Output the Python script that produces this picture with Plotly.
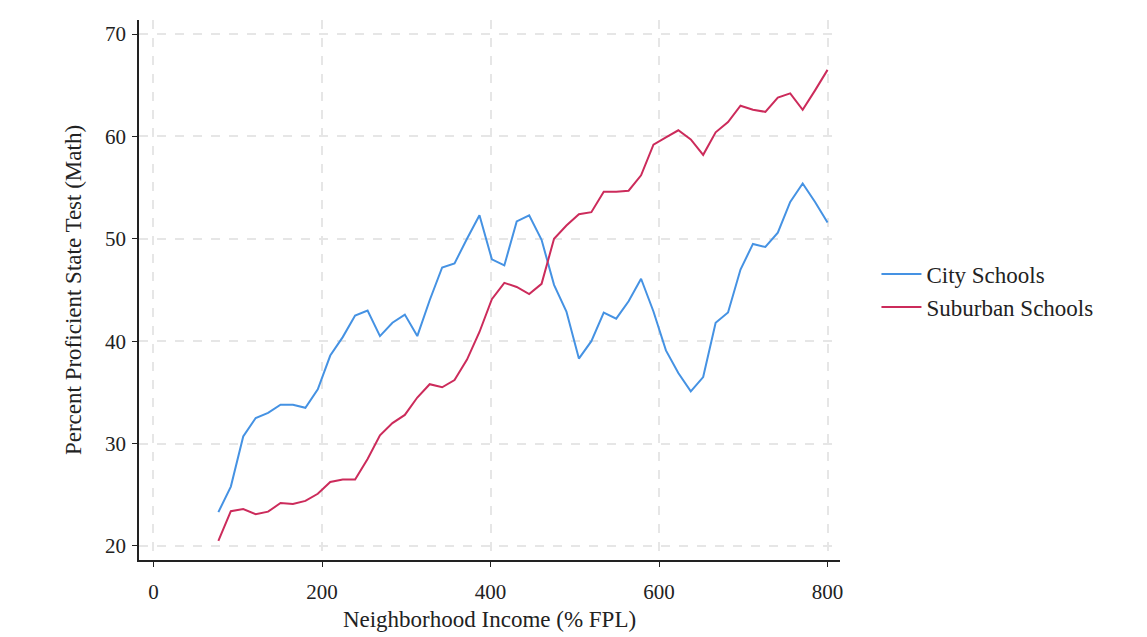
import plotly.graph_objects as go

income = [77.0, 91.8, 106.5, 121.3, 136.0, 150.8, 165.5, 180.3, 195.0, 209.8,
          224.6, 239.3, 254.1, 268.8, 283.6, 298.3, 313.1, 327.8, 342.6, 357.3,
          372.1, 386.9, 401.6, 416.4, 431.1, 445.9, 460.6, 475.4, 490.1, 504.9,
          519.7, 534.4, 549.2, 563.9, 578.7, 593.4, 608.2, 622.9, 637.7, 652.4,
          667.2, 681.9, 696.7, 711.5, 726.2, 741.0, 755.7, 770.5, 785.2, 800.0]

city = [23.3, 25.8, 30.7, 32.5, 33.0, 33.8, 33.8, 33.5, 35.3, 38.6,
        40.4, 42.5, 43.0, 40.5, 41.8, 42.6, 40.5, 44.0, 47.2, 47.6,
        50.0, 52.3, 48.0, 47.4, 51.7, 52.3, 49.9, 45.5, 42.9, 38.3,
        40.0, 42.8, 42.2, 43.9, 46.1, 42.9, 39.1, 36.9, 35.1, 36.5,
        41.8, 42.8, 47.0, 49.5, 49.2, 50.6, 53.6, 55.4, 53.6, 51.6]

suburban = [20.5, 23.4, 23.6, 23.1, 23.35, 24.2, 24.1, 24.4, 25.1, 26.25,
            26.5, 26.5, 28.5, 30.8, 32.0, 32.8, 34.5, 35.8, 35.5, 36.2,
            38.2, 40.9, 44.1, 45.7, 45.3, 44.6, 45.6, 50.0, 51.3, 52.4,
            52.6, 54.6, 54.6, 54.7, 56.2, 59.2, 59.9, 60.6, 59.7, 58.2,
            60.4, 61.4, 63.0, 62.6, 62.4, 63.8, 64.2, 62.6, 64.5, 66.5]

x_ticks = [0, 200, 400, 600, 800]
y_ticks = [20, 30, 40, 50, 60, 70]

FONT = "Liberation Serif, Times New Roman, serif"
TXT = "#222222"

fig = go.Figure()
fig.add_trace(go.Scatter(x=income, y=city, mode="lines", name="City Schools",
                         line=dict(color="#4592e3", width=2)))
fig.add_trace(go.Scatter(x=income, y=suburban, mode="lines", name="Suburban Schools",
                         line=dict(color="#cc2b5b", width=2)))

axis_common = dict(
    showline=True, linecolor="#222222", linewidth=1.5,
    ticks="outside", ticklen=5, tickwidth=1.2, tickcolor="#222222",
    showgrid=True, gridcolor="#e6e6e6", gridwidth=1.5, griddash="dash",
    zeroline=False, automargin=False,
    tickfont=dict(family=FONT, size=21, color=TXT),
)

fig.update_xaxes(range=[-17.2, 814.8], tickvals=x_ticks, ticklabelstandoff=7,
                 title=dict(text="Neighborhood Income (% FPL)",
                            font=dict(family=FONT, size=23, color=TXT),
                            standoff=8),
                 **axis_common)
fig.update_yaxes(range=[18.63, 71.37], tickvals=y_ticks, ticklabelstandoff=2,
                 title=dict(text="Percent Proficient State Test (Math)",
                            font=dict(family=FONT, size=23, color=TXT),
                            standoff=17),
                 **axis_common)

# page body has an 8px margin: shrink the figure so the plot area lands where the reference has it
fig.update_layout(
    width=1139, height=629,
    margin=dict(l=131, r=307, t=12, b=77, autoexpand=False),
    paper_bgcolor="white", plot_bgcolor="white",
    font=dict(family=FONT, size=21, color=TXT),
    legend=dict(x=1.052, y=0.499, xanchor="left", yanchor="middle",
                font=dict(family=FONT, size=23, color=TXT),
                bgcolor="rgba(0,0,0,0)", itemwidth=40, tracegroupgap=0),
    showlegend=True,
)

fig.write_html("out.html")
